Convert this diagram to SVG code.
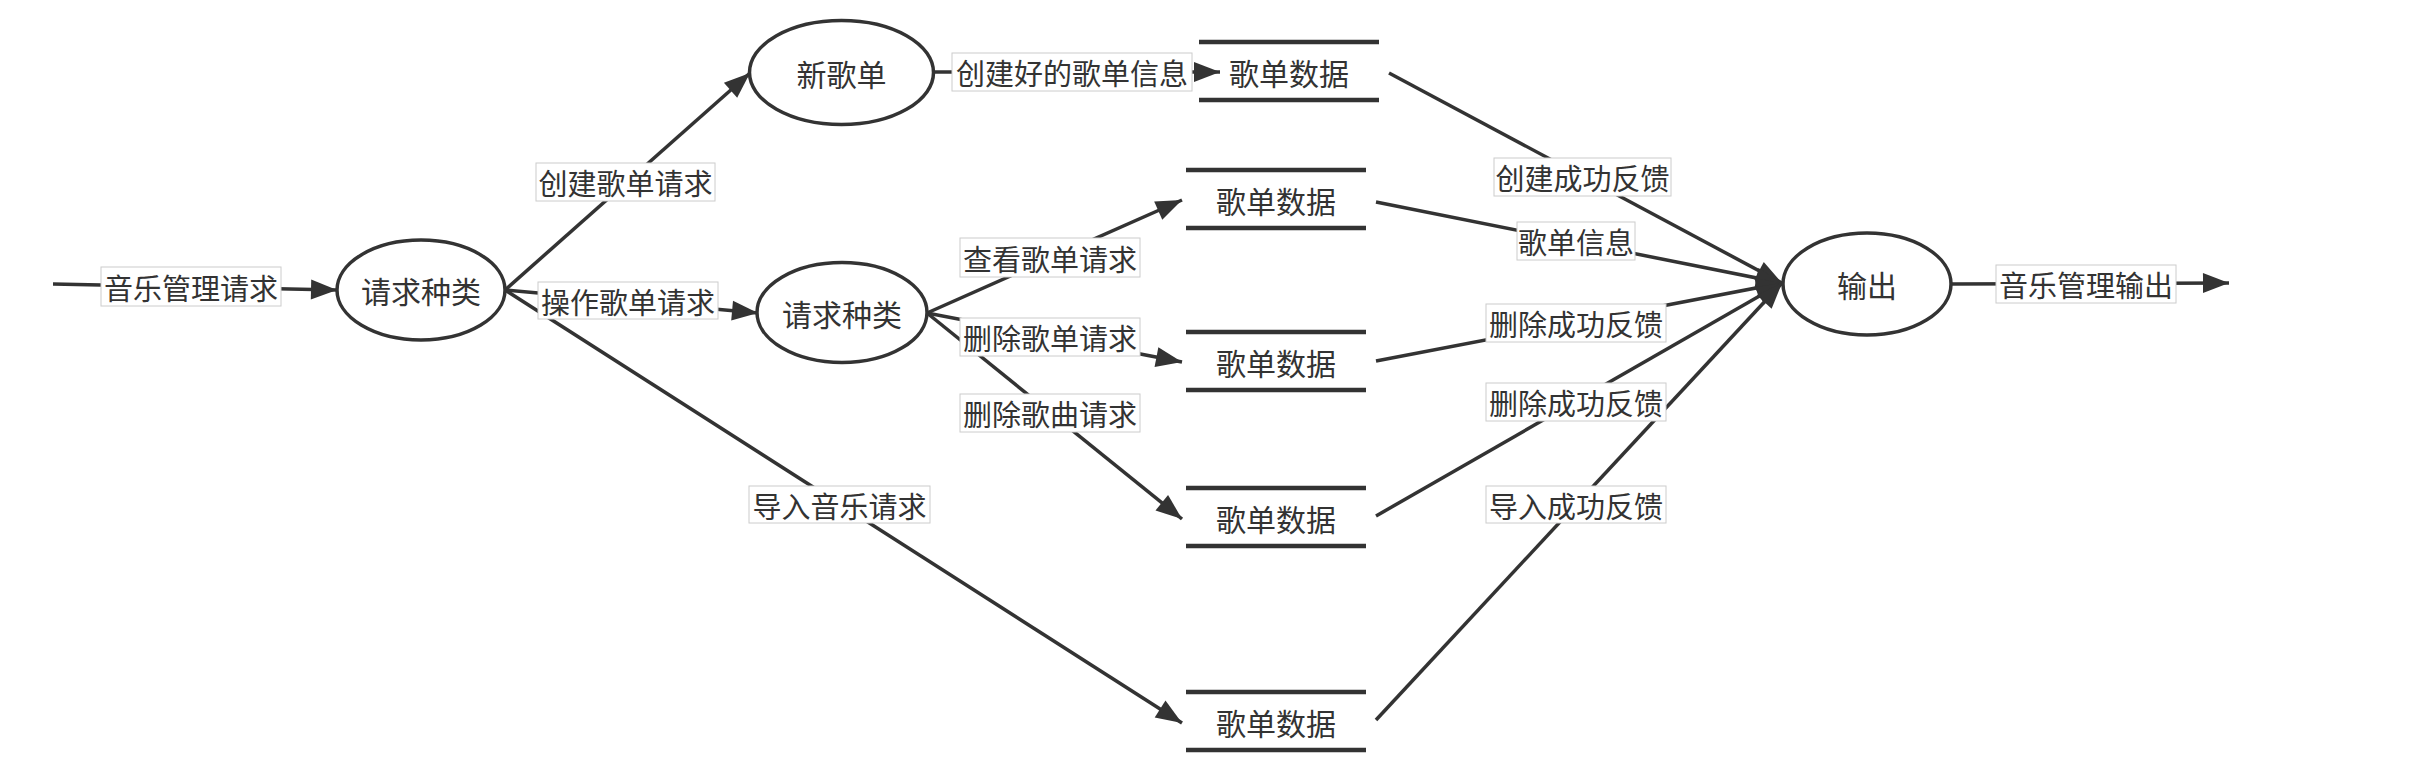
<svg xmlns="http://www.w3.org/2000/svg" width="2433" height="769" viewBox="0 0 2433 769">
<style>
.bg{fill:#ffffff}
.proc{fill:#ffffff;stroke:#333333;stroke-width:3.5}
.ds{stroke:#333333;stroke-width:4.5;fill:none}
.edge{stroke:#333333;stroke-width:3.5;fill:none}
.lb{fill:#ffffff;stroke:#cccccc;stroke-width:1}
.t{font-family:"Noto Sans CJK SC","Noto Sans",sans-serif;font-size:29px;fill:#333333;text-anchor:middle;dominant-baseline:central}
.n{font-size:30px}
</style>
<defs>
<marker id="arr" markerUnits="userSpaceOnUse" markerWidth="28" markerHeight="22" refX="26" refY="10" orient="auto" overflow="visible">
<path d="M0,0 L26,10 L0,20 z" fill="#333333"/>
</marker>
</defs>
<rect class="bg" x="0" y="0" width="2433" height="769"/>
<g id="connectors">
<line class="edge" x1="53" y1="284" x2="337" y2="290" marker-end="url(#arr)"/>
<line class="edge" x1="505" y1="290" x2="750" y2="73" marker-end="url(#arr)"/>
<line class="edge" x1="505" y1="290" x2="758" y2="313" marker-end="url(#arr)"/>
<line class="edge" x1="505" y1="290" x2="1182" y2="723" marker-end="url(#arr)"/>
<line class="edge" x1="934" y1="72" x2="1220" y2="72" marker-end="url(#arr)"/>
<line class="edge" x1="927" y1="313" x2="1182" y2="200" marker-end="url(#arr)"/>
<line class="edge" x1="927" y1="313" x2="1182" y2="362" marker-end="url(#arr)"/>
<line class="edge" x1="927" y1="313" x2="1182" y2="519" marker-end="url(#arr)"/>
<line class="edge" x1="1389" y1="73" x2="1782" y2="283" marker-end="url(#arr)"/>
<line class="edge" x1="1376" y1="202" x2="1782" y2="283" marker-end="url(#arr)"/>
<line class="edge" x1="1376" y1="361" x2="1782" y2="283" marker-end="url(#arr)"/>
<line class="edge" x1="1376" y1="516" x2="1782" y2="283" marker-end="url(#arr)"/>
<line class="edge" x1="1376" y1="720" x2="1782" y2="283" marker-end="url(#arr)"/>
<line class="edge" x1="1951" y1="284" x2="2229" y2="283" marker-end="url(#arr)"/>
<rect class="lb" x="101" y="267" width="180" height="39"/>
<text class="t" x="191" y="287">音乐管理请求</text>
<rect class="lb" x="536" y="163" width="179" height="38"/>
<text class="t" x="625.5" y="182">创建歌单请求</text>
<rect class="lb" x="538" y="282" width="180" height="37"/>
<text class="t" x="628" y="300.5">操作歌单请求</text>
<rect class="lb" x="749" y="486" width="181" height="37"/>
<text class="t" x="839.5" y="504.5">导入音乐请求</text>
<rect class="lb" x="952" y="53" width="240" height="38"/>
<text class="t" x="1072" y="72">创建好的歌单信息</text>
<rect class="lb" x="960" y="238" width="180" height="39"/>
<text class="t" x="1050" y="257.5">查看歌单请求</text>
<rect class="lb" x="960" y="318" width="180" height="38"/>
<text class="t" x="1050" y="337">删除歌单请求</text>
<rect class="lb" x="960" y="394" width="180" height="38"/>
<text class="t" x="1050" y="413">删除歌曲请求</text>
<rect class="lb" x="1494" y="158" width="177" height="38"/>
<text class="t" x="1582.5" y="177">创建成功反馈</text>
<rect class="lb" x="1517" y="222" width="118" height="38"/>
<text class="t" x="1576" y="241">歌单信息</text>
<rect class="lb" x="1486" y="304" width="180" height="38"/>
<text class="t" x="1576" y="323">删除成功反馈</text>
<rect class="lb" x="1486" y="383" width="180" height="38"/>
<text class="t" x="1576" y="402">删除成功反馈</text>
<rect class="lb" x="1486" y="486" width="180" height="37"/>
<text class="t" x="1576" y="504.5">导入成功反馈</text>
<rect class="lb" x="1996" y="265" width="180" height="38"/>
<text class="t" x="2086" y="284">音乐管理输出</text>
</g>
<g id="node-request1">
<ellipse class="proc" cx="421" cy="290" rx="84" ry="50"/>
<text class="t n" x="421" y="290">请求种类</text>
</g>
<g id="node-newlist">
<ellipse class="proc" cx="841.5" cy="72.5" rx="92" ry="52"/>
<text class="t n" x="841.5" y="72.5">新歌单</text>
</g>
<g id="node-request2">
<ellipse class="proc" cx="842" cy="312.5" rx="85" ry="50"/>
<text class="t n" x="842" y="312.5">请求种类</text>
</g>
<g id="node-ds1">
<line class="ds" x1="1199" y1="42" x2="1379" y2="42"/>
<line class="ds" x1="1199" y1="100" x2="1379" y2="100"/>
<text class="t n" x="1289" y="72">歌单数据</text>
</g>
<g id="node-ds2">
<line class="ds" x1="1186" y1="170" x2="1366" y2="170"/>
<line class="ds" x1="1186" y1="228" x2="1366" y2="228"/>
<text class="t n" x="1276" y="200">歌单数据</text>
</g>
<g id="node-ds3">
<line class="ds" x1="1186" y1="332" x2="1366" y2="332"/>
<line class="ds" x1="1186" y1="390" x2="1366" y2="390"/>
<text class="t n" x="1276" y="362">歌单数据</text>
</g>
<g id="node-ds4">
<line class="ds" x1="1186" y1="488" x2="1366" y2="488"/>
<line class="ds" x1="1186" y1="546" x2="1366" y2="546"/>
<text class="t n" x="1276" y="518">歌单数据</text>
</g>
<g id="node-ds5">
<line class="ds" x1="1186" y1="692" x2="1366" y2="692"/>
<line class="ds" x1="1186" y1="750" x2="1366" y2="750"/>
<text class="t n" x="1276" y="722">歌单数据</text>
</g>
<g id="node-output">
<ellipse class="proc" cx="1867" cy="284" rx="84" ry="51"/>
<text class="t n" x="1867" y="284">输出</text>
</g>
</svg>
